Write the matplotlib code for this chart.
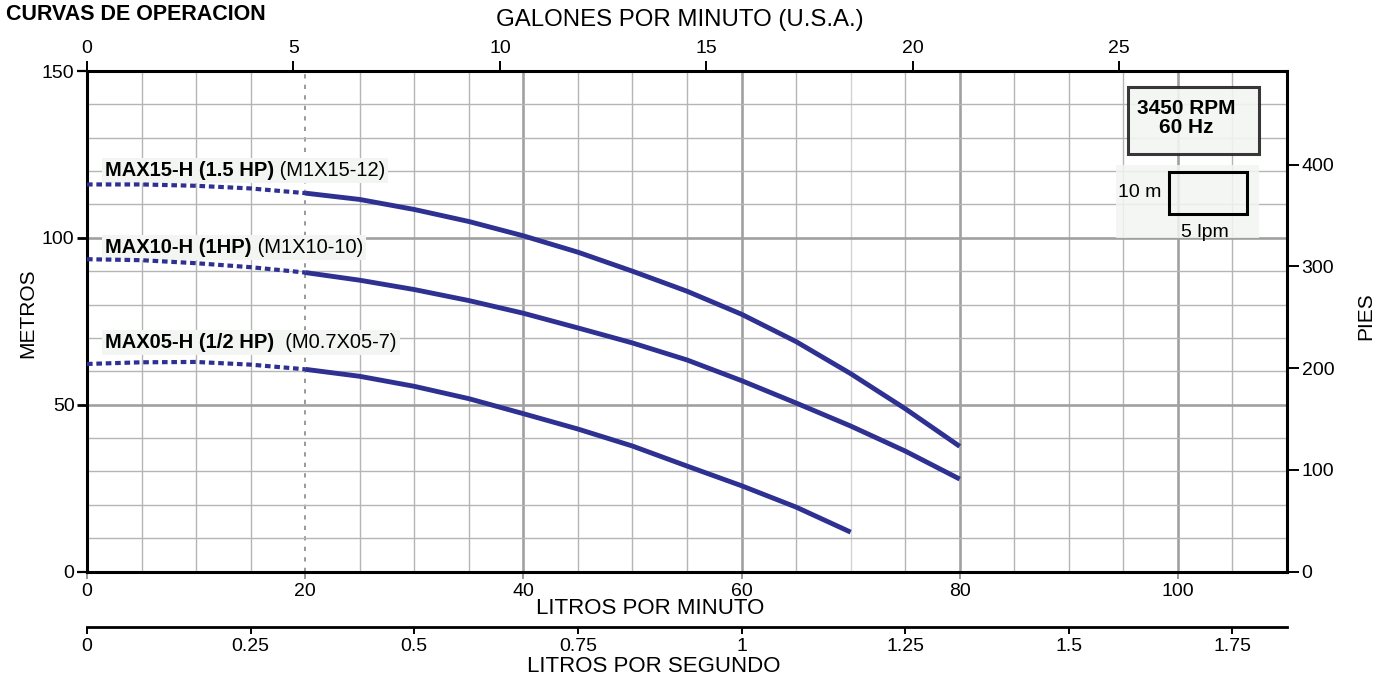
import matplotlib
matplotlib.use("Agg")
import matplotlib.pyplot as plt
from matplotlib.patches import Rectangle
from matplotlib.ticker import MultipleLocator, FixedLocator

plt.rcParams['font.family'] = ['Liberation Sans', 'DejaVu Sans']
plt.rcParams['font.size'] = 14

# ---------------- data (flow in litros por minuto, head in metros) -------------
flow_max15 = [0, 5, 10, 15, 20, 25, 30, 35, 40, 45, 50, 55, 60, 65, 70, 75, 80]
head_max15 = [116.0, 116.0, 115.6, 114.8, 113.4, 111.5, 108.5, 104.9, 100.6,
              95.7, 90.0, 84.0, 77.1, 68.9, 59.3, 48.8, 37.5]
flow_max10 = [0, 5, 10, 15, 20, 25, 30, 35, 40, 45, 50, 55, 60, 65, 70, 75, 80]
head_max10 = [93.6, 93.3, 92.4, 91.2, 89.6, 87.3, 84.5, 81.2, 77.4,
              73.0, 68.5, 63.4, 57.2, 50.5, 43.6, 36.1, 27.7]
flow_max05 = [0, 5, 10, 15, 20, 25, 30, 35, 40, 45, 50, 55, 60, 65, 70]
head_max05 = [62.2, 62.7, 62.8, 62.0, 60.6, 58.5, 55.5, 51.8, 47.3,
              42.7, 37.6, 31.6, 25.7, 19.3, 11.8]
dotted_limit = 20  # lpm: dotted part of each curve ends here

labels_bold = ["MAX15-H (1.5 HP)", "MAX10-H (1HP)", "MAX05-H (1/2 HP)"]
labels_model = [" (M1X15-12)", " (M1X10-10)", "  (M0.7X05-7)"]
label_pos = [(1.65, 120.3), (1.65, 97.2), (1.65, 68.6)]

lpm_ticks = [0, 20, 40, 60, 80, 100]
m_ticks = [0, 50, 100, 150]
gpm_ticks = [0, 5, 10, 15, 20, 25]
ft_ticks = [0, 100, 200, 300, 400]
lps_ticks = [0, 0.25, 0.5, 0.75, 1, 1.25, 1.5, 1.75]
lps_labels = ["0", "0.25", "0.5", "0.75", "1", "1.25", "1.5", "1.75"]

CURVE = '#2e3192'
W, H = 1391, 679


def fx(px):
    return px / W


def fy(py):
    return 1 - py / H


fig = plt.figure(figsize=(W / 100, H / 100), dpi=100)
ax = fig.add_axes([fx(87), fy(571.5), 1200 / W, 500.5 / H])
ax.set_xlim(0, 110)
ax.set_ylim(0, 150)
ax.set_axisbelow(True)

# grid
ax.xaxis.set_major_locator(FixedLocator(lpm_ticks))
ax.xaxis.set_minor_locator(MultipleLocator(5))
ax.yaxis.set_major_locator(FixedLocator(m_ticks))
ax.yaxis.set_minor_locator(MultipleLocator(10))
ax.grid(which='minor', color='#b5b5b5', lw=1.0)
ax.grid(which='major', color='#a0a0a0', lw=1.9)
for val, gl in zip(lpm_ticks, ax.xaxis.get_gridlines()):
    if val == 20:
        gl.set_linestyle((0, (2.2, 3.2)))
        gl.set_linewidth(1.4)
        gl.set_color('#999999')
for val, t in zip(ax.xaxis.get_minorticklocs(), ax.xaxis.get_minor_ticks()):
    if abs(val - 70) < 1e-6:
        t.gridline.set_color('#d2d2d2')
ax.tick_params(which='minor', length=0)
ax.tick_params(axis='x', which='major', direction='out', length=5, width=1.4,
               color='#999999', pad=3, labelsize=14)
ax.tick_params(axis='y', which='major', direction='out', length=7, width=1.6,
               color='black', pad=2, labelsize=14)
for val, t in zip(m_ticks, ax.yaxis.get_major_ticks()):
    if val in (50, 100):
        t.tick1line.set_color('#999999')
        t.tick1line.set_markeredgewidth(2.0)
ax.set_xticklabels([str(v) for v in lpm_ticks])
for s in ax.spines.values():
    s.set_linewidth(2.2)
    s.set_color('black')

# curves
for fl, hd in [(flow_max15, head_max15), (flow_max10, head_max10),
               (flow_max05, head_max05)]:
    i = fl.index(dotted_limit)
    ax.plot(fl[:i + 1], hd[:i + 1], color=CURVE, lw=3.0,
            linestyle=(0, (1.35, 0.9)), dash_capstyle='butt', zorder=6)
    ax.plot(fl[i:], hd[i:], color=CURVE, lw=3.5, solid_capstyle='butt',
            solid_joinstyle='round', zorder=6)

# curve labels
for (x, y), b, m in zip(label_pos, labels_bold, labels_model):
    t = ax.text(x, y, b, fontsize=14.5, fontweight='bold', va='center', ha='left',
                zorder=5, bbox=dict(boxstyle='square,pad=0.15', fc='#f3f5f3', ec='none'))
    ax.annotate(m, xy=(1, 0.5), xycoords=t, va='center', ha='left', fontsize=14.5,
                zorder=4, bbox=dict(boxstyle='square,pad=0.15', fc='#f3f5f3', ec='none'))

# secondary axes
top = ax.secondary_xaxis('top', functions=(lambda x: x / 3.785, lambda g: g * 3.785))
top.set_xticks(gpm_ticks)
top.set_xticklabels([str(v) for v in gpm_ticks])
top.tick_params(direction='out', length=7, width=1.4, pad=3, labelsize=14)
top.spines['top'].set_visible(False)

right = ax.secondary_yaxis('right', functions=(lambda m: m * 3.28084, lambda f: f / 3.28084))
right.set_yticks(ft_ticks)
right.set_yticklabels([str(v) for v in ft_ticks])
right.tick_params(direction='out', length=8.5, width=1.4, pad=2, labelsize=14)
right.spines['right'].set_visible(False)

lps = ax.secondary_xaxis(-0.111, functions=(lambda x: x / 60, lambda s: s * 60))
lps.set_xticks(lps_ticks)
lps.set_xticklabels(lps_labels)
lps.tick_params(direction='out', length=5, width=1.4, pad=3, labelsize=14)
lps.spines['bottom'].set_linewidth(2.0)

# axis titles
fig.text(fx(680), fy(20), "GALONES POR MINUTO (U.S.A.)", ha='center', va='center', fontsize=17.3)
fig.text(fx(650), fy(609), "LITROS POR MINUTO", ha='center', va='center', fontsize=16)
fig.text(fx(654), fy(667), "LITROS POR SEGUNDO", ha='center', va='center', fontsize=16)
fig.text(fx(28), fy(313), "METROS", ha='center', va='center', fontsize=15, rotation=90)
fig.text(fx(1366), fy(316), "PIES", ha='center', va='center', fontsize=15, rotation=90)
fig.text(fx(6), fy(20), "CURVAS DE OPERACION", ha='left', va='baseline', fontsize=15.5,
         fontweight='bold')

# info boxes
fig.add_artist(Rectangle((fx(1127.7), fy(154.3)), (1259 - 1127.7) / W, (154.3 - 86.7) / H,
                         transform=fig.transFigure, fc='#f3f5f3', ec='#222222', lw=2.2, alpha=0.9))
fig.text(fx(1186), fy(118), "3450 RPM\n60 Hz", ha='center', va='center', fontsize=15,
         fontweight='bold', linespacing=1.0)
fig.add_artist(Rectangle((fx(1115.7), fy(237.7)), (1259 - 1115.7) / W, (237.7 - 165) / H,
                         transform=fig.transFigure, fc='#f3f5f3', ec='none', alpha=0.85))
fig.add_artist(Rectangle((fx(1169.3), fy(214.3)), (1246.7 - 1169.3) / W, (214.3 - 171.7) / H,
                         transform=fig.transFigure, fc='none', ec='black', lw=2.2))
fig.text(fx(1140), fy(192.7), "10 m", ha='center', va='center', fontsize=14)
fig.text(fx(1204.5), fy(232.7), "5 lpm", ha='center', va='center', fontsize=14)

fig.savefig("out.png", dpi=100)
